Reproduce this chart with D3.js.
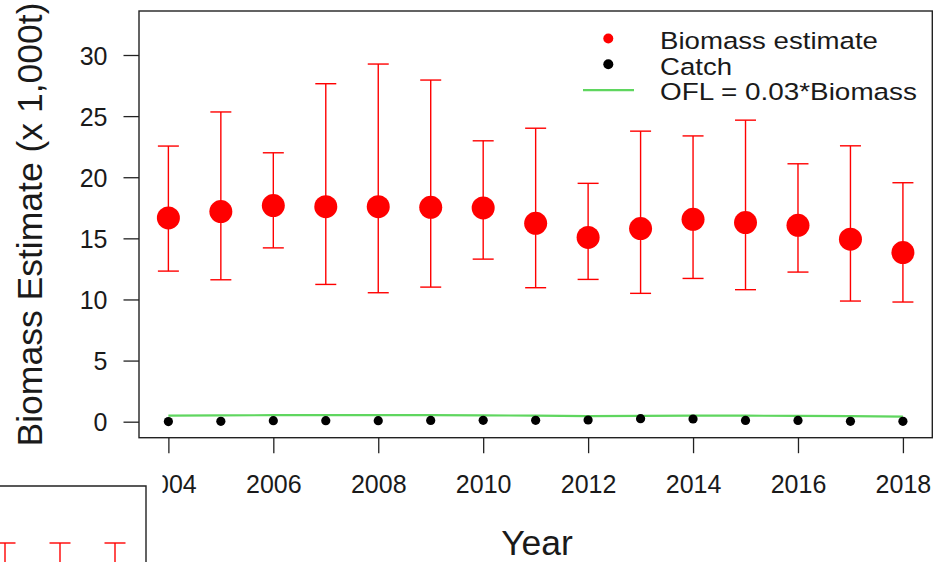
<!DOCTYPE html>
<html>
<head>
<meta charset="utf-8">
<script src="https://cdn.jsdelivr.net/npm/d3@7"></script>
<style>
  html, body { margin: 0; padding: 0; background: #fff; }
  svg { display: block; font-family: "Liberation Sans", Arial, Helvetica, sans-serif; }
</style>
</head>
<body>
<svg id="chart" width="941" height="562"></svg>
<script>
// ---- data ----
const years   = [2004, 2005, 2006, 2007, 2008, 2009, 2010, 2011, 2012, 2013, 2014, 2015, 2016, 2017, 2018];
const biomass = [16.67, 17.19, 17.68, 17.59, 17.59, 17.54, 17.49, 16.23, 15.07, 15.80, 16.56, 16.29, 16.07, 14.93, 13.84];
const upper   = [22.55, 25.34, 22.00, 27.65, 29.26, 27.95, 22.98, 24.01, 19.50, 23.77, 23.38, 24.67, 21.10, 22.57, 19.55];
const lower   = [12.32, 11.61, 14.22, 11.23, 10.55, 11.01, 13.30, 10.96, 11.64, 10.50, 11.72, 10.80, 12.24, 9.87, 9.79];
const catchV  = [0.01, 0.03, 0.08, 0.08, 0.08, 0.10, 0.11, 0.11, 0.14, 0.25, 0.22, 0.10, 0.10, 0.03, 0.03];
const ofl     = [0.50, 0.52, 0.53, 0.53, 0.53, 0.53, 0.52, 0.49, 0.45, 0.47, 0.50, 0.49, 0.48, 0.45, 0.42];
const yTicks  = [0, 5, 10, 15, 20, 25, 30];
const xTicks  = [2004, 2006, 2008, 2010, 2012, 2014, 2016, 2018];
const legendLabels = ["Biomass estimate", "Catch", "OFL = 0.03*Biomass"];
// partially visible neighbouring panel (only the tops of three error bars show)
const panel2Index = [0, 1, 2];
const panel2Upper = [30, 30, 30];

const svg = d3.select("#chart");
const RED = "#ff0000", GREEN = "#5fd65f";

const box = {left: 139, right: 932.3, top: 11, bottom: 437.7};
const x = d3.scaleLinear().domain([2003.44, 2018.56]).range([box.left, box.right]);
const y = d3.scaleLinear().domain([-1.31, 33.6]).range([box.bottom, box.top]);

// y axis
const yAxis = d3.axisLeft(y).tickValues(yTicks).tickSize(15.5).tickPadding(16).tickFormat(d3.format("d"));
const gy = svg.append("g").attr("transform", `translate(${box.left},0)`).call(yAxis);
gy.select(".domain").remove();
gy.selectAll("line").attr("stroke", "#222").attr("stroke-width", 1.3);
gy.selectAll("text").attr("font-size", 25).attr("fill", "#1a1a1a").attr("dy", "0.36em")
  .attr("font-family", "Liberation Sans, Arial, sans-serif");

// x axis
const xAxis = d3.axisBottom(x).tickValues(xTicks).tickSize(15.5).tickPadding(22).tickFormat(d3.format("d"));
const gx = svg.append("g").attr("transform", `translate(0,${box.bottom})`).call(xAxis);
gx.select(".domain").remove();
gx.selectAll("line").attr("stroke", "#222").attr("stroke-width", 1.3);
gx.selectAll("text").attr("font-size", 25).attr("fill", "#1a1a1a").attr("dy", "0.72em")
  .attr("font-family", "Liberation Sans, Arial, sans-serif");

// plot box
svg.append("rect")
  .attr("x", box.left).attr("y", box.top)
  .attr("width", box.right - box.left).attr("height", box.bottom - box.top)
  .attr("fill", "none").attr("stroke", "#222").attr("stroke-width", 1.4);

// error bars
const eb = svg.append("g").attr("stroke", RED).attr("stroke-width", 1.4).attr("fill", "none");
years.forEach((yr, i) => {
  const cx = x(yr);
  eb.append("line").attr("x1", cx).attr("x2", cx).attr("y1", y(lower[i])).attr("y2", y(upper[i]));
  eb.append("line").attr("x1", cx - 10.5).attr("x2", cx + 10.5).attr("y1", y(upper[i])).attr("y2", y(upper[i]));
  eb.append("line").attr("x1", cx - 10.5).attr("x2", cx + 10.5).attr("y1", y(lower[i])).attr("y2", y(lower[i]));
});

// OFL line
svg.append("path")
  .datum(years.map((yr, i) => [yr, ofl[i]]))
  .attr("fill", "none").attr("stroke", GREEN).attr("stroke-width", 2.2)
  .attr("d", d3.line().x(d => x(d[0])).y(d => y(d[1])));

// biomass points
svg.append("g").selectAll("circle").data(years).join("circle")
  .attr("cx", d => x(d)).attr("cy", (d, i) => y(biomass[i])).attr("r", 11.5).attr("fill", RED);

// catch points
svg.append("g").selectAll("circle").data(years).join("circle")
  .attr("cx", d => x(d)).attr("cy", (d, i) => y(catchV[i])).attr("r", 4.6).attr("fill", "#000");

// legend
const lg = svg.append("g");
const lgX = 660, lgY0 = 40.5, lgDy = 25.3;
const lgWidths = [218, 72, 257];
legendLabels.forEach((t, i) => {
  lg.append("text").attr("x", lgX).attr("y", lgY0 + i * lgDy).attr("dy", "0.36em")
    .attr("font-size", 24.5).attr("fill", "#1a1a1a")
    .attr("textLength", lgWidths[i]).attr("lengthAdjust", "spacingAndGlyphs")
    .text(t);
});
lg.append("circle").attr("cx", 608.3).attr("cy", lgY0 - 2).attr("r", 5).attr("fill", RED);
lg.append("circle").attr("cx", 608.3).attr("cy", lgY0 + lgDy - 1.5).attr("r", 5).attr("fill", "#000");
lg.append("line").attr("x1", 583).attr("x2", 634).attr("y1", lgY0 + 2 * lgDy - 1).attr("y2", lgY0 + 2 * lgDy - 1)
  .attr("stroke", GREEN).attr("stroke-width", 2.2);

// axis titles
svg.append("text").attr("x", 537).attr("y", 555).attr("text-anchor", "middle")
  .attr("font-size", 35.5).attr("fill", "#1a1a1a").text("Year");
svg.append("text").attr("transform", "translate(42,224.5) rotate(-90)").attr("text-anchor", "middle")
  .attr("font-size", 35.5).attr("fill", "#1a1a1a").text("Biomass Estimate (x 1,000t)");

// neighbouring panel (bottom-left) covering part of the figure
svg.append("rect").attr("x", 0).attr("y", 462).attr("width", 162.5).attr("height", 100).attr("fill", "#fff");
svg.append("path").attr("d", "M0,486 H146 V562").attr("fill", "none").attr("stroke", "#222").attr("stroke-width", 1.4);
const x2 = d3.scaleLinear().domain([0, 2]).range([5, 115]);
const y2 = d3.scaleLinear().domain([0, 30]).range([700, 543]);
const eb2 = svg.append("g").attr("stroke", RED).attr("stroke-width", 1.4);
panel2Index.forEach((k, i) => {
  const cx = x2(k);
  eb2.append("line").attr("x1", cx).attr("x2", cx).attr("y1", y2(panel2Upper[i])).attr("y2", 562);
  eb2.append("line").attr("x1", cx - 10.5).attr("x2", cx + 10.5).attr("y1", y2(panel2Upper[i])).attr("y2", y2(panel2Upper[i]));
});
</script>
</body>
</html>
